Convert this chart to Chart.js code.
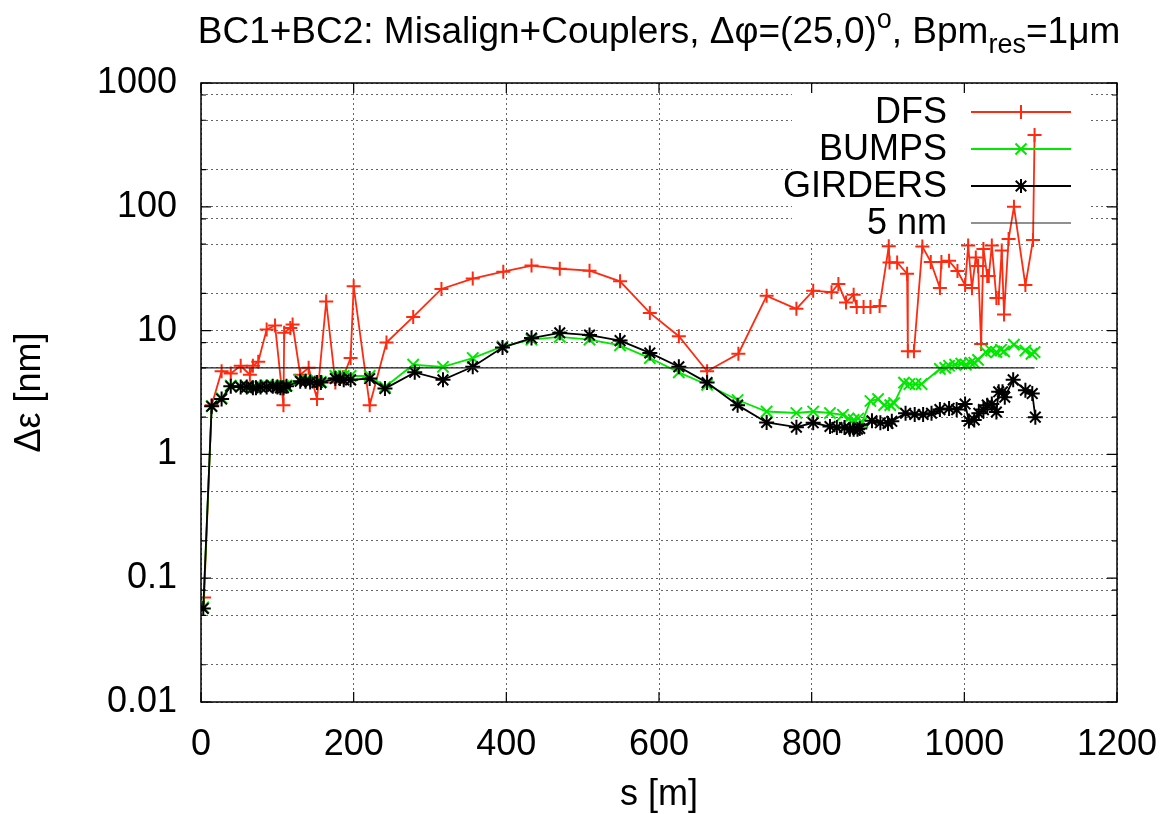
<!DOCTYPE html>
<html lang="en">
<head>
<meta charset="UTF-8">
<title>BC1+BC2: Misalign+Couplers</title>
<script src="https://cdn.jsdelivr.net/npm/chart.js"></script>
<style>
  html, body { margin: 0; padding: 0; background: #fff; }
  #wrap { width: 1165px; height: 814px; }
</style>
</head>
<body>
<div id="wrap"><canvas id="chart" width="1165" height="814"></canvas></div>
<script>
// s [m] positions and emittance growth [nm]
var dfsS = [4, 14, 27, 39, 52, 64, 68, 75, 86, 97, 108, 109, 117, 120, 130, 141, 152, 164, 176, 186,
  196, 200, 221, 243, 278, 315, 356, 396, 433, 470, 509, 549, 588, 626, 663, 704, 741, 780, 802, 826,
  835, 845, 855, 859, 868, 877, 889, 901, 902, 912, 925, 926, 934, 945, 956, 968, 970, 980, 991, 1001,
  1005, 1010, 1015, 1018, 1022, 1025, 1030, 1032, 1036, 1042, 1045, 1049, 1052, 1058, 1065, 1080, 1090, 1092];
var dfsE = [0.07, 2.5, 4.7, 4.5, 5.2, 4.4, 5.2, 5.6, 10.2, 11, 2.5, 9.6, 10.5, 11.2, 4.4, 5.0, 2.8, 17.2, 3.8, 4.2,
  6.0, 22.8, 2.5, 8.0, 12.9, 21.7, 26.3, 29.9, 33.5, 31.6, 30.5, 25, 13.9, 9.0, 4.7, 6.5, 19.1, 15, 21, 20.4,
  23.8, 16.9, 19.5, 15.5, 15.5, 15.5, 15.8, 48, 35.5, 35.5, 28.8, 6.8, 6.8, 47.7, 35.9, 22.1, 35.9, 36.6, 30.3, 23.3,
  48.6, 22.1, 39, 33.3, 7.8, 45.7, 27.6, 27.6, 48.6, 18.3, 18.3, 44.3, 13.5, 55, 100, 23.3, 54, 380];

var bumpsS = [3, 14, 27, 39, 52, 60, 68, 72, 78, 86, 94, 100, 104, 108, 112, 130, 137, 143, 152, 157,
  176, 182, 187, 196, 221, 241, 278, 317, 356, 395, 433, 470, 509, 549, 588, 626, 663, 703, 741, 780,
  802, 824, 841, 848, 855, 861, 866, 877, 887, 895, 903, 908, 921, 928, 936, 944, 968, 975, 980, 988,
  996, 1002, 1008, 1013, 1018, 1028, 1035, 1042, 1048, 1052, 1065, 1080, 1088, 1092];
var bumpsE = [0.058, 2.45, 2.85, 3.6, 3.55, 3.55, 3.5, 3.5, 3.55, 3.6, 3.6, 3.55, 3.55, 3.55, 3.6, 4.0, 4.0, 3.9, 3.9, 3.85,
  4.3, 4.3, 4.3, 4.3, 4.3, 3.5, 5.3, 5.1, 6.0, 7.45, 8.45, 8.9, 8.45, 7.6, 6.0, 4.6, 3.65, 2.75, 2.22, 2.16,
  2.22, 2.16, 2.09, 1.95, 1.9, 1.95, 1.82, 2.7, 2.8, 2.5, 2.5, 2.6, 3.8, 3.7, 3.7, 3.7, 4.9, 5.0, 5.2, 5.3,
  5.4, 5.3, 5.5, 5.5, 5.8, 6.7, 6.9, 6.7, 7.0, 6.8, 7.7, 6.9, 6.5, 6.7];

var girdS = [3, 14, 27, 39, 52, 60, 68, 72, 78, 86, 94, 100, 104, 108, 112, 130, 137, 143, 152, 157,
  176, 182, 187, 196, 221, 241, 280, 317, 356, 395, 433, 470, 509, 549, 588, 626, 663, 703, 741, 780,
  802, 824, 833, 843, 850, 855, 860, 863, 879, 890, 900, 905, 923, 935, 946, 957, 968, 980, 990, 1001,
  1006, 1013, 1019, 1025, 1030, 1036, 1042, 1045, 1050, 1053, 1064, 1080, 1089, 1093];
var girdE = [0.057, 2.45, 2.8, 3.55, 3.5, 3.5, 3.45, 3.45, 3.5, 3.5, 3.55, 3.5, 3.45, 3.45, 3.55, 3.9, 3.9, 3.85, 3.8, 3.8,
  4.1, 4.1, 4.0, 4.0, 4.1, 3.4, 4.6, 4.0, 5.1, 7.3, 8.7, 9.6, 9.2, 8.3, 6.6, 5.1, 3.8, 2.5, 1.81, 1.66,
  1.8, 1.68, 1.65, 1.65, 1.6, 1.6, 1.6, 1.62, 1.87, 1.8, 1.78, 1.85, 2.15, 2.1, 2.1, 2.15, 2.3, 2.35, 2.3, 2.55,
  1.86, 1.9, 2.15, 2.3, 2.5, 2.55, 2.2, 3.2, 3.2, 2.9, 4.0, 3.3, 3.1, 2.0];

var refS = [0, 1092];
var refE = [5, 5];

var yMajor = [0.01, 0.1, 1, 10, 100, 1000];
var yMinor = [0.02, 0.05, 0.08, 0.2, 0.5, 0.8, 2, 5, 8, 20, 50, 80, 200, 500, 800];
var xTicks = [0, 200, 400, 600, 800, 1000, 1200];

var seriesNames = ['DFS', 'BUMPS', 'GIRDERS', '5 nm'];

var FONT = "'Liberation Sans', Arial, Helvetica, sans-serif";
var RED = '#ff2a10';
var GREEN = '#00e800';

function pts(s, e) {
  return s.map(function (v, i) { return { x: v, y: e[i] }; });
}

// draws + / x / * like gnuplot
function marker(ctx, kind, x, y, r) {
  ctx.beginPath();
  if (kind === 'cross' || kind === 'star') {
    ctx.moveTo(x - r, y); ctx.lineTo(x + r, y);
    ctx.moveTo(x, y - r); ctx.lineTo(x, y + r);
  }
  if (kind === 'crossRot' || kind === 'star') {
    var d = kind === 'star' ? r * 0.75 : r;
    ctx.moveTo(x - d, y - d); ctx.lineTo(x + d, y + d);
    ctx.moveTo(x - d, y + d); ctx.lineTo(x + d, y - d);
  }
  ctx.stroke();
}

var gnuplotDeco = {
  id: 'gnuplotDeco',
  beforeDatasetsDraw: function (chart) {
    // key box hides the grid behind it
    var ctx = chart.ctx;
    ctx.save();
    ctx.fillStyle = '#fff';
    ctx.fillRect(792, 90, 298, 152);
    ctx.restore();
  },
  afterDatasetsDraw: function (chart) {
    var ctx = chart.ctx;
    var ds = chart.data.datasets;
    var rows = [112, 149, 186, 223];
    ctx.save();
    ctx.font = '36px ' + FONT;
    ctx.textAlign = 'right';
    ctx.textBaseline = 'middle';
    for (var i = 0; i < ds.length; i++) {
      var y = rows[i];
      ctx.fillStyle = '#000';
      ctx.fillText(ds[i].label, 947, y + 1);
      ctx.strokeStyle = ds[i].borderColor;
      ctx.lineWidth = ds[i].borderWidth;
      ctx.beginPath();
      ctx.moveTo(971, y); ctx.lineTo(1071, y);
      ctx.stroke();
      if (ds[i].pointRadius > 0) {
        ctx.lineWidth = 2;
        marker(ctx, ds[i].pointStyle, 1021, y, ds[i].pointStyle === 'crossRot' ? 5.5 : 7);
      }
    }
    ctx.restore();
  },
  afterDraw: function (chart) {
    var ctx = chart.ctx;
    var a = chart.chartArea;
    var xs = chart.scales.x, ys = chart.scales.y;
    ctx.save();
    ctx.strokeStyle = '#000';
    ctx.lineWidth = 1.5;
    ctx.strokeRect(a.left, a.top, a.right - a.left, a.bottom - a.top);
    ctx.lineWidth = 1.2;
    ctx.beginPath();
    xTicks.forEach(function (v) {
      var px = xs.getPixelForValue(v);
      ctx.moveTo(px, a.bottom); ctx.lineTo(px, a.bottom - 10);
      ctx.moveTo(px, a.top); ctx.lineTo(px, a.top + 10);
    });
    yMajor.concat(yMinor).forEach(function (v) {
      var py = ys.getPixelForValue(v);
      var len = yMajor.indexOf(v) >= 0 ? 10 : 5;
      ctx.moveTo(a.left, py); ctx.lineTo(a.left + len, py);
      ctx.moveTo(a.right, py); ctx.lineTo(a.right - len, py);
    });
    ctx.stroke();

    // title with superscript and subscript
    var parts = [
      { t: 'BC1+BC2: Misalign+Couplers, \u0394\u03c6=(25,0)', size: 37, dy: 0 },
      { t: 'o', size: 27, dy: -15 },
      { t: ', Bpm', size: 37, dy: 0 },
      { t: 'res', size: 27, dy: 10 },
      { t: '=1\u03bcm', size: 37, dy: 0 }
    ];
    var total = 0;
    parts.forEach(function (p) {
      ctx.font = p.size + 'px ' + FONT;
      p.w = ctx.measureText(p.t).width;
      total += p.w;
    });
    var x = (a.left + a.right) / 2 - total / 2;
    ctx.fillStyle = '#000';
    ctx.textAlign = 'left';
    ctx.textBaseline = 'alphabetic';
    parts.forEach(function (p) {
      ctx.font = p.size + 'px ' + FONT;
      ctx.fillText(p.t, x, 43 + p.dy);
      x += p.w;
    });
    ctx.restore();
  }
};

new Chart(document.getElementById('chart'), {
  type: 'line',
  data: {
    datasets: [
      {
        label: seriesNames[0], data: pts(dfsS, dfsE), order: 4,
        borderColor: RED, borderWidth: 1.8, pointStyle: 'cross', pointRadius: 7,
        pointBorderColor: RED, pointBorderWidth: 2, tension: 0
      },
      {
        label: seriesNames[1], data: pts(bumpsS, bumpsE), order: 3,
        borderColor: GREEN, borderWidth: 1.8, pointStyle: 'crossRot', pointRadius: 8,
        pointBorderColor: GREEN, pointBorderWidth: 2, tension: 0
      },
      {
        label: seriesNames[2], data: pts(girdS, girdE), order: 2,
        borderColor: '#000', borderWidth: 1.8, pointStyle: 'star', pointRadius: 7.5,
        pointBorderColor: '#000', pointBorderWidth: 2, tension: 0
      },
      {
        label: seriesNames[3], data: pts(refS, refE), order: 1,
        borderColor: '#222', borderWidth: 1.2, pointRadius: 0, tension: 0
      }
    ]
  },
  options: {
    responsive: false,
    animation: false,
    devicePixelRatio: 1,
    layout: { padding: { top: 83, right: 48, bottom: 0, left: 0 } },
    plugins: {
      legend: { display: false },
      title: { display: false },
      tooltip: { enabled: false }
    },
    scales: {
      x: {
        type: 'linear',
        min: 0, max: 1200,
        afterFit: function (scale) {
          scale.height = 112;
          scale.paddingLeft = 0;
          scale.paddingRight = 0;
        },
        afterBuildTicks: function (scale) {
          scale.ticks = xTicks.map(function (v) { return { value: v }; });
        },
        ticks: {
          color: '#000', padding: 21,
          font: { family: FONT, size: 36 },
          callback: function (v) { return String(v); }
        },
        grid: { color: '#666', lineWidth: 1, drawTicks: false },
        border: { display: false, dash: [2, 3] },
        title: {
          display: true, text: 's [m]', color: '#000',
          font: { family: FONT, size: 36, lineHeight: 1 },
          padding: { top: 0, bottom: 1 }
        }
      },
      y: {
        type: 'logarithmic',
        min: 0.01, max: 1000,
        afterFit: function (scale) {
          scale.width = 201;
          scale.paddingTop = 0;
          scale.paddingBottom = 0;
        },
        afterBuildTicks: function (scale) {
          var vals = yMajor.concat(yMinor).sort(function (p, q) { return p - q; });
          scale.ticks = vals.map(function (v) { return { value: v, major: yMajor.indexOf(v) >= 0 }; });
        },
        ticks: {
          color: '#000', padding: 24, autoSkip: false,
          font: { family: FONT, size: 36 },
          callback: function (v) { return yMajor.indexOf(v) >= 0 ? String(v) : ''; }
        },
        grid: { color: '#666', lineWidth: 1, drawTicks: false },
        border: { display: false, dash: [2, 3] },
        title: {
          display: true, text: '\u0394\u03b5 [nm]', color: '#000',
          font: { family: FONT, size: 36, lineHeight: 1.2 },
          padding: { top: 8, bottom: 0 }
        }
      }
    }
  },
  plugins: [gnuplotDeco]
});
</script>
</body>
</html>
